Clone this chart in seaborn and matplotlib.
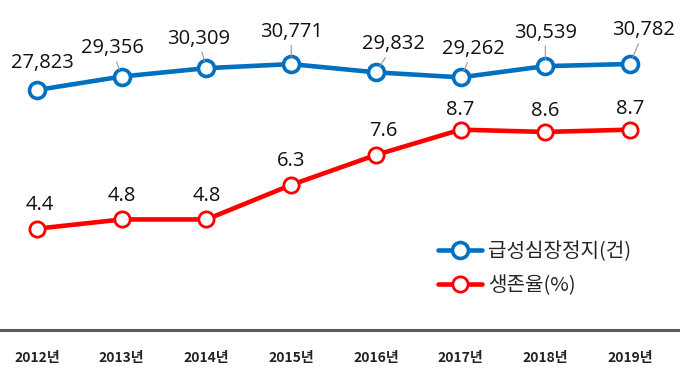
import numpy as np
import pandas as pd
import seaborn as sns
import matplotlib.pyplot as plt

# data
years = ['2012년', '2013년', '2014년', '2015년', '2016년', '2017년', '2018년', '2019년']
arrest = [27823, 29356, 30309, 30771, 29832, 29262, 30539, 30782]
survival = [4.4, 4.8, 4.8, 6.3, 7.6, 8.7, 8.6, 8.7]

df = pd.DataFrame({'pos': np.arange(len(years)), 'arrest': arrest, 'survival': survival})

sns.set_style('white')
plt.rcParams['font.family'] = ['Open Sans', 'Noto Sans CJK KR', 'DejaVu Sans']

blue = '#0070C0'
red = '#FF0000'

fig = plt.figure(figsize=(6.8, 3.77), dpi=100)
ax = fig.add_axes([0, 47 / 377, 1, 330 / 377])
ax2 = ax.twinx()

sns.lineplot(data=df, x='pos', y='arrest', ax=ax, color=blue, lw=3.3, marker='o',
             markersize=11.5, markerfacecolor='white', markeredgecolor=blue,
             markeredgewidth=2.6, label='급성심장정지(건)', legend=False)
sns.lineplot(data=df, x='pos', y='survival', ax=ax2, color=red, lw=3.3, marker='o',
             markersize=11, markerfacecolor='white', markeredgecolor=red,
             markeredgewidth=2.0, label='생존율(%)', legend=False)

# scales chosen so the lines sit where they do in the reference
ax.set_ylim(511, 38065)
ax2.set_ylim(0, 14.33)
ax.set_xlim(-0.437, 7.59)

# blue labels with grey leader lines (offsets in points)
offsets = [(4, 12), (-7, 13), (-6, 14), (0, 16), (13, 13), (9.5, 13), (0, 17), (10, 17)]
for i, (v, off) in enumerate(zip(arrest, offsets)):
    ax.annotate(f'{v:,}', (i, v), xytext=off, textcoords='offset points',
                ha='center', va='bottom', fontsize=14.5, color='#111111',
                arrowprops=dict(arrowstyle='-', color='#999999', lw=0.8,
                                shrinkA=0, shrinkB=5) if i > 0 else None)

red_off = [(2, 10), (0, 10), (0, 10), (0, 10), (5, 10), (0, 7), (0, 8), (0, 8)]
for i, (v, off) in enumerate(zip(survival, red_off)):
    ax2.annotate(f'{v}', (i, v), xytext=off, textcoords='offset points',
                 ha='center', va='bottom', fontsize=14.5, color='#111111')

ax.set_xticks(df['pos'])
ax.set_xticklabels(years, fontsize=10, fontweight='bold', color='#222222',
                   family=['Noto Sans CJK KR', 'DejaVu Sans'])
ax.tick_params(axis='x', length=0, pad=15)
ax.set_yticks([])
ax2.set_yticks([])
ax.set_xlabel('')
ax.set_ylabel('')
ax2.set_ylabel('')

for a in (ax, ax2):
    for s in ('top', 'left', 'right', 'bottom'):
        a.spines[s].set_visible(False)
ax.spines['bottom'].set_visible(True)
ax.spines['bottom'].set_color('#595959')
ax.spines['bottom'].set_linewidth(2.2)

h1, l1 = ax.get_legend_handles_labels()
h2, l2 = ax2.get_legend_handles_labels()
ax2.legend(h1 + h2, l1 + l2, loc='upper left', bbox_to_anchor=(0.617, 0.325),
           frameon=False, handlelength=2.2, handletextpad=0.3, labelspacing=0.65,
           prop={'family': ['Noto Sans CJK KR', 'DejaVu Sans'], 'size': 14.5})

fig.savefig('out.png', dpi=100)
